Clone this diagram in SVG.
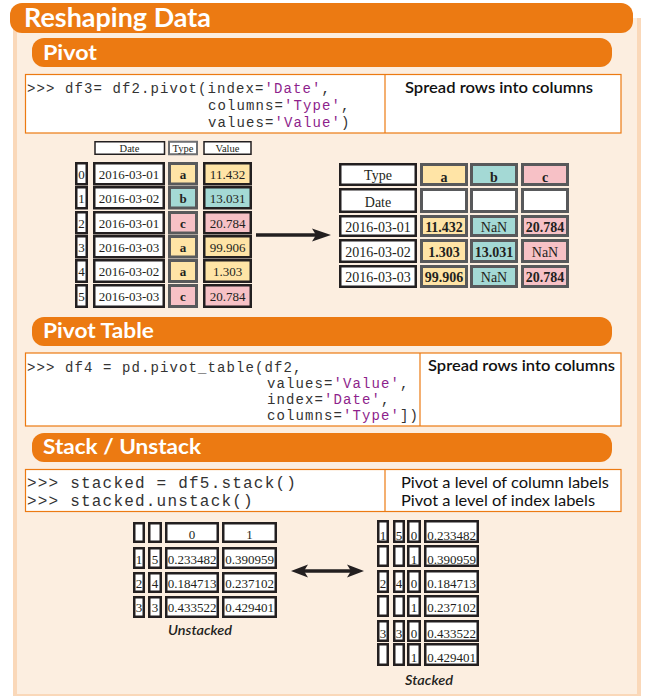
<svg xmlns="http://www.w3.org/2000/svg" width="645" height="696" viewBox="0 0 645 696">
<defs>
<style>
.bar{fill:#EC7A12}
.h1{font-family:Lato,"Noto Sans",sans-serif;font-weight:700;fill:#fff}
.box{fill:#fff;stroke:#EC7A12;stroke-width:1.2}
.code{font-family:"Liberation Mono",monospace;font-size:14px;letter-spacing:1.1px;fill:#333}
.code2{font-family:"Liberation Mono",monospace;font-size:16px;letter-spacing:1.2px;fill:#333}
.str{fill:#8E1F8C}
.desc{font-family:Lato,"Noto Sans",sans-serif;font-size:16px;font-weight:600;fill:#111}
.desc2{font-family:Lato,"Noto Sans",sans-serif;font-size:16px;fill:#111}
.c{fill:#fff;stroke:#231F20;stroke-width:2.5}
.g{stroke:#58595B;stroke-width:3}
.hd{fill:#fff;stroke:#231F20;stroke-width:1.5}
.hg{fill:#fff;stroke:#6D6E71;stroke-width:2}
.t{font-family:"Liberation Serif",serif;font-size:13px;fill:#231F20;text-anchor:middle}
.r{font-size:14px}
.ts{font-family:"Liberation Serif",serif;font-size:10.5px;fill:#231F20;text-anchor:middle}
.b{font-weight:700}
.y{fill:#FFE4A6}
.q{fill:#A4D9D5}
.p{fill:#F7C1C6}
.w{fill:#fff}
.cap{font-family:Lato,"Noto Sans",sans-serif;font-style:italic;font-size:14px;font-weight:600;fill:#231F20}
.arr{stroke:#231F20;stroke-width:3.5;fill:none}
</style>
</defs>
<rect x="0" y="0" width="645" height="696" fill="#fff"/>
<g id="panel">
<rect x="13" y="18" width="628" height="678" fill="#FAD8B9"/>
<rect x="17" y="18" width="620" height="676" fill="#FCEEE0"/>
<rect x="42" y="694" width="599" height="2" fill="#FAD8B9"/>
</g>
<g id="title">
<rect class="bar" x="10" y="3" width="623" height="30" rx="12"/>
<text class="h1" x="24" y="27" font-size="26" textLength="187" lengthAdjust="spacingAndGlyphs">Reshaping Data</text>
</g>
<g id="pivot-header">
<rect class="bar" x="32" y="38" width="580" height="29" rx="12"/>
<text class="h1" x="43" y="60" font-size="21" textLength="54" lengthAdjust="spacingAndGlyphs">Pivot</text>
</g>
<g id="pivot-code">
<rect class="box" x="25.5" y="74.5" width="595.5" height="58.5"/>
<line x1="385" y1="74.5" x2="385" y2="133" stroke="#EC7A12" stroke-width="1.2"/>
<text class="code" x="27" y="93">&gt;&gt;&gt; df3= df2.pivot(index=<tspan class="str">'Date'</tspan>,</text>
<text class="code" x="208" y="110">columns=<tspan class="str">'Type'</tspan>,</text>
<text class="code" x="208" y="127">values=<tspan class="str">'Value'</tspan>)</text>
<text class="desc" x="405" y="93" textLength="188" lengthAdjust="spacingAndGlyphs">Spread rows into columns</text>
</g>
<g id="df2-table">
<rect class="hd" x="95" y="141.75" width="69.5" height="12.5"/>
<rect class="hg" x="169" y="141.75" width="28" height="12.5"/>
<rect class="hd" x="204" y="141.75" width="47" height="12.5"/>
<text class="ts" x="129.5" y="152">Date</text>
<text class="ts" x="183" y="152" fill="#58595B">Type</text>
<text class="ts" x="227.5" y="152">Value</text>

<rect class="c" x="76.25" y="163.25" width="10.5" height="21"/>
<rect class="c" x="94.25" y="163.25" width="69.5" height="21"/>
<rect class="g y" x="169.5" y="163.5" width="27" height="20.5"/>
<rect class="c y" x="204.25" y="163.25" width="46.5" height="21"/>
<text class="t" x="81.5" y="179">0</text><text class="t" x="129" y="179">2016-03-01</text><text class="t b" x="183" y="179">a</text><text class="t" x="227.5" y="179">11.432</text>

<rect class="c" x="76.25" y="187.25" width="10.5" height="21"/>
<rect class="c" x="94.25" y="187.25" width="69.5" height="21"/>
<rect class="g q" x="169.5" y="187.5" width="27" height="20.5"/>
<rect class="c q" x="204.25" y="187.25" width="46.5" height="21"/>
<text class="t" x="81.5" y="203">1</text><text class="t" x="129" y="203">2016-03-02</text><text class="t b" x="183" y="203">b</text><text class="t" x="227.5" y="203">13.031</text>

<rect class="c" x="76.25" y="212.25" width="10.5" height="21"/>
<rect class="c" x="94.25" y="212.25" width="69.5" height="21"/>
<rect class="g p" x="169.5" y="212.5" width="27" height="20.5"/>
<rect class="c p" x="204.25" y="212.25" width="46.5" height="21"/>
<text class="t" x="81.5" y="228">2</text><text class="t" x="129" y="228">2016-03-01</text><text class="t b" x="183" y="228">c</text><text class="t" x="227.5" y="228">20.784</text>

<rect class="c" x="76.25" y="236.25" width="10.5" height="21"/>
<rect class="c" x="94.25" y="236.25" width="69.5" height="21"/>
<rect class="g y" x="169.5" y="236.5" width="27" height="20.5"/>
<rect class="c y" x="204.25" y="236.25" width="46.5" height="21"/>
<text class="t" x="81.5" y="252">3</text><text class="t" x="129" y="252">2016-03-03</text><text class="t b" x="183" y="252">a</text><text class="t" x="227.5" y="252">99.906</text>

<rect class="c" x="76.25" y="260.25" width="10.5" height="21.5"/>
<rect class="c" x="94.25" y="260.25" width="69.5" height="21.5"/>
<rect class="g y" x="169.5" y="260.5" width="27" height="21"/>
<rect class="c y" x="204.25" y="260.25" width="46.5" height="21.5"/>
<text class="t" x="81.5" y="276">4</text><text class="t" x="129" y="276">2016-03-02</text><text class="t b" x="183" y="276">a</text><text class="t" x="227.5" y="276">1.303</text>

<rect class="c" x="76.25" y="285.25" width="10.5" height="21.5"/>
<rect class="c" x="94.25" y="285.25" width="69.5" height="21.5"/>
<rect class="g p" x="169.5" y="285.5" width="27" height="21"/>
<rect class="c p" x="204.25" y="285.25" width="46.5" height="21.5"/>
<text class="t" x="81.5" y="301">5</text><text class="t" x="129" y="301">2016-03-03</text><text class="t b" x="183" y="301">c</text><text class="t" x="227.5" y="301">20.784</text>
</g>
<g id="df3-table">
<rect class="c" x="340.25" y="164.25" width="75.5" height="20.5"/>
<rect class="g y" x="421.5" y="164.5" width="45" height="20"/>
<rect class="g q" x="471.5" y="164.5" width="45" height="20"/>
<rect class="g p" x="522.5" y="164.5" width="45" height="20"/>
<text class="t r" x="378" y="180">Type</text><text class="t r b" x="444" y="182">a</text><text class="t r b" x="494" y="182">b</text><text class="t r b" x="545" y="182">c</text>

<rect class="c" x="340.25" y="189.25" width="75.5" height="22.5"/>
<rect class="g w" x="421.5" y="189.5" width="45" height="22"/>
<rect class="g w" x="471.5" y="189.5" width="45" height="22"/>
<rect class="g w" x="522.5" y="189.5" width="45" height="22"/>
<text class="t r" x="378" y="207">Date</text>

<rect class="c" x="340.25" y="216.25" width="75.5" height="19.5"/>
<rect class="g y" x="421.5" y="216.5" width="45" height="19"/>
<rect class="g q" x="471.5" y="216.5" width="45" height="19"/>
<rect class="g p" x="522.5" y="216.5" width="45" height="19"/>
<text class="t r" x="378" y="232">2016-03-01</text><text class="t r b" x="444" y="232">11.432</text><text class="t r" x="494" y="232">NaN</text><text class="t r b" x="545" y="232">20.784</text>

<rect class="c" x="340.25" y="240.25" width="75.5" height="21.5"/>
<rect class="g y" x="421.5" y="240.5" width="45" height="21"/>
<rect class="g q" x="471.5" y="240.5" width="45" height="21"/>
<rect class="g p" x="522.5" y="240.5" width="45" height="21"/>
<text class="t r" x="378" y="257">2016-03-02</text><text class="t r b" x="444" y="257">1.303</text><text class="t r b" x="494" y="257">13.031</text><text class="t r" x="545" y="257">NaN</text>

<rect class="c" x="340.25" y="266.25" width="75.5" height="20.5"/>
<rect class="g y" x="421.5" y="266.5" width="45" height="20"/>
<rect class="g q" x="471.5" y="266.5" width="45" height="20"/>
<rect class="g p" x="522.5" y="266.5" width="45" height="20"/>
<text class="t r" x="378" y="282">2016-03-03</text><text class="t r b" x="444" y="282">99.906</text><text class="t r" x="494" y="282">NaN</text><text class="t r b" x="545" y="282">20.784</text>
</g>
<g id="pivot-table-header">
<rect class="bar" x="32" y="317" width="580" height="29" rx="12"/>
<text class="h1" x="43" y="338" font-size="21" textLength="111" lengthAdjust="spacingAndGlyphs">Pivot Table</text>
</g>
<g id="pivot-table-code">
<rect class="box" x="25.5" y="353" width="595.5" height="73"/>
<line x1="420" y1="353" x2="420" y2="426" stroke="#EC7A12" stroke-width="1.2"/>
<text class="code" x="27" y="372">&gt;&gt;&gt; df4 = pd.pivot_table(df2,</text>
<text class="code" x="267" y="388">values=<tspan class="str">'Value'</tspan>,</text>
<text class="code" x="267" y="404">index=<tspan class="str">'Date'</tspan>,</text>
<text class="code" x="267" y="420">columns=<tspan class="str">'Type'</tspan>])</text>
<text class="desc" x="428" y="371" textLength="187" lengthAdjust="spacingAndGlyphs">Spread rows into columns</text>
</g>
<g id="stack-header">
<rect class="bar" x="32" y="433" width="580" height="29" rx="12"/>
<text class="h1" x="43" y="454" font-size="21" textLength="158" lengthAdjust="spacingAndGlyphs">Stack / Unstack</text>
</g>
<g id="stack-code">
<rect class="box" x="25.5" y="469.5" width="595.5" height="42"/>
<line x1="385" y1="469.5" x2="385" y2="511.5" stroke="#EC7A12" stroke-width="1.2"/>
<text class="code2" x="27" y="488">&gt;&gt;&gt; stacked = df5.stack()</text>
<text class="code2" x="27" y="506">&gt;&gt;&gt; stacked.unstack()</text>
<text class="desc2" x="401" y="488" textLength="208" lengthAdjust="spacingAndGlyphs">Pivot a level of column labels</text>
<text class="desc2" x="401" y="506" textLength="194" lengthAdjust="spacingAndGlyphs">Pivot a level of index labels</text>
</g>
<g id="unstacked-table">
<rect class="c" x="134.25" y="523.25" width="9.5" height="18.5"/>
<rect class="c" x="149.25" y="523.25" width="11.5" height="18.5"/>
<rect class="c" x="166.25" y="523.25" width="51.5" height="18.5"/>
<rect class="c" x="223.25" y="523.25" width="52.5" height="18.5"/>
<text class="t" x="192" y="539">0</text><text class="t" x="249.5" y="539">1</text>

<rect class="c" x="134.25" y="548.25" width="9.5" height="19.5"/>
<rect class="c" x="149.25" y="548.25" width="11.5" height="19.5"/>
<rect class="c" x="166.25" y="548.25" width="51.5" height="19.5"/>
<rect class="c" x="223.25" y="548.25" width="52.5" height="19.5"/>
<text class="t" x="139" y="564">1</text><text class="t" x="155" y="564">5</text><text class="t" x="192" y="564">0.233482</text><text class="t" x="249.5" y="564">0.390959</text>

<rect class="c" x="134.25" y="573.25" width="9.5" height="18.5"/>
<rect class="c" x="149.25" y="573.25" width="11.5" height="18.5"/>
<rect class="c" x="166.25" y="573.25" width="51.5" height="18.5"/>
<rect class="c" x="223.25" y="573.25" width="52.5" height="18.5"/>
<text class="t" x="139" y="588">2</text><text class="t" x="155" y="588">4</text><text class="t" x="192" y="588">0.184713</text><text class="t" x="249.5" y="588">0.237102</text>

<rect class="c" x="134.25" y="597.25" width="9.5" height="19.5"/>
<rect class="c" x="149.25" y="597.25" width="11.5" height="19.5"/>
<rect class="c" x="166.25" y="597.25" width="51.5" height="19.5"/>
<rect class="c" x="223.25" y="597.25" width="52.5" height="19.5"/>
<text class="t" x="139" y="612">3</text><text class="t" x="155" y="612">3</text><text class="t" x="192" y="612">0.433522</text><text class="t" x="249.5" y="612">0.429401</text>
<text class="cap" x="168" y="635" textLength="64" lengthAdjust="spacingAndGlyphs">Unstacked</text>
</g>
<g id="stacked-table">
<rect class="c" x="378.25" y="521.25" width="9.5" height="20.5"/>
<rect class="c" x="394.25" y="521.25" width="9.5" height="20.5"/>
<rect class="c" x="408.25" y="521.25" width="11.5" height="20.5"/>
<rect class="c" x="425.25" y="521.25" width="52.5" height="20.5"/>
<text class="t" x="383" y="540">1</text><text class="t" x="399" y="540">5</text><text class="t" x="414" y="540">0</text><text class="t" x="451.5" y="540">0.233482</text>

<rect class="c" x="378.25" y="546.25" width="9.5" height="19.5"/>
<rect class="c" x="394.25" y="546.25" width="9.5" height="19.5"/>
<rect class="c" x="408.25" y="546.25" width="11.5" height="19.5"/>
<rect class="c" x="425.25" y="546.25" width="52.5" height="19.5"/>
<text class="t" x="414" y="563.5">1</text><text class="t" x="451.5" y="563.5">0.390959</text>

<rect class="c" x="378.25" y="571.25" width="9.5" height="20.5"/>
<rect class="c" x="394.25" y="571.25" width="9.5" height="20.5"/>
<rect class="c" x="408.25" y="571.25" width="11.5" height="20.5"/>
<rect class="c" x="425.25" y="571.25" width="52.5" height="20.5"/>
<text class="t" x="383" y="587.5">2</text><text class="t" x="399" y="587.5">4</text><text class="t" x="414" y="587.5">0</text><text class="t" x="451.5" y="587.5">0.184713</text>

<rect class="c" x="378.25" y="596.25" width="9.5" height="19.5"/>
<rect class="c" x="394.25" y="596.25" width="9.5" height="19.5"/>
<rect class="c" x="408.25" y="596.25" width="11.5" height="19.5"/>
<rect class="c" x="425.25" y="596.25" width="52.5" height="19.5"/>
<text class="t" x="414" y="611.5">1</text><text class="t" x="451.5" y="611.5">0.237102</text>

<rect class="c" x="378.25" y="621.25" width="9.5" height="19.5"/>
<rect class="c" x="394.25" y="621.25" width="9.5" height="19.5"/>
<rect class="c" x="408.25" y="621.25" width="11.5" height="19.5"/>
<rect class="c" x="425.25" y="621.25" width="52.5" height="19.5"/>
<text class="t" x="383" y="637.5">3</text><text class="t" x="399" y="637.5">3</text><text class="t" x="414" y="637.5">0</text><text class="t" x="451.5" y="637.5">0.433522</text>

<rect class="c" x="378.25" y="644.25" width="9.5" height="20.5"/>
<rect class="c" x="394.25" y="644.25" width="9.5" height="20.5"/>
<rect class="c" x="408.25" y="644.25" width="11.5" height="20.5"/>
<rect class="c" x="425.25" y="644.25" width="52.5" height="20.5"/>
<text class="t" x="414" y="661.5">1</text><text class="t" x="451.5" y="661.5">0.429401</text>
<text class="cap" x="405" y="685" textLength="48" lengthAdjust="spacingAndGlyphs">Stacked</text>
</g>
<g id="connectors">
<line class="arr" x1="256" y1="235" x2="318" y2="235"/>
<path d="M331,235 L312,228.5 L316,235 L312,241.5 Z" fill="#231F20"/>
<line class="arr" x1="302" y1="571" x2="353" y2="571" stroke-width="3"/>
<path d="M291,571 L308,564.5 L304,571 L308,577.5 Z" fill="#231F20"/>
<path d="M364,571 L347,564.5 L351,571 L347,577.5 Z" fill="#231F20"/>
</g>
</svg>
